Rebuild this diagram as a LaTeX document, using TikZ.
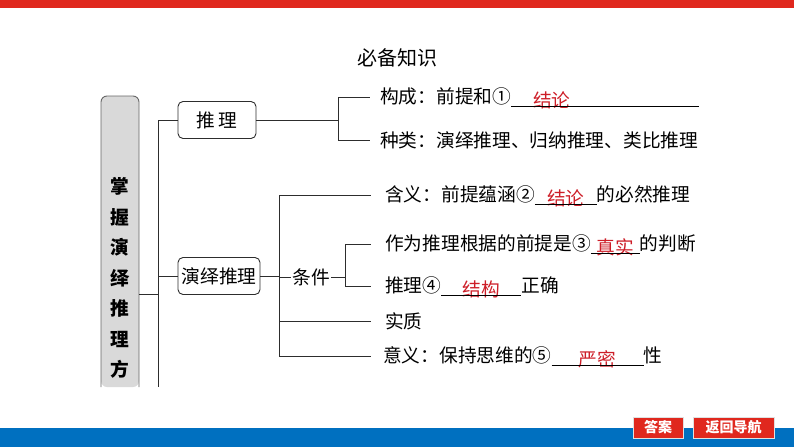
\documentclass[tikz,border=0pt]{standalone}
\usepackage{fontspec}
\setmainfont{Noto Sans CJK SC}
\usetikzlibrary{positioning,calc}
\definecolor{BarRed}{RGB}{224,40,30}
\definecolor{BarBlue}{RGB}{0,112,192}
\definecolor{AnsClr}{RGB}{205,30,40}
\definecolor{BoxClr}{RGB}{217,217,217}
\definecolor{LineClr}{RGB}{45,45,45}
\newcommand{\blank}[2]{\makebox[#1][c]{\textcolor{AnsClr}{\raisebox{-4pt}[0pt][0pt]{#2}}}\llap{\rule[-3pt]{#1}{0.8pt}}}
\newcommand{\blankat}[3]{\makebox[#1][l]{\hspace{#2}\textcolor{AnsClr}{\raisebox{-4pt}[0pt][0pt]{#3}}}\llap{\rule[-3pt]{#1}{0.8pt}}}

\begin{document}
\begin{tikzpicture}[x=1pt,y=-1pt,
  every node/.style={font=\fontsize{18.7}{22}\selectfont},
  topic/.style={draw=LineClr,line width=0.9pt,rounded corners=5pt,minimum height=37pt,inner sep=0pt},
  leaf/.style={anchor=west,inner xsep=12pt,inner ysep=2pt},
  btn/.style={fill=BarRed,draw=black!12,line width=1pt,text=white,minimum height=21pt,inner sep=0pt,font=\fontsize{14}{16}\selectfont\bfseries},
  conn/.style={draw=LineClr,line width=0.9pt}]
\useasboundingbox (0,0) rectangle (794,447);

% frame bars
\fill[BarRed] (0,0) rectangle (794,8);
\fill[BarBlue] (0,428) rectangle (794,447);

\node (title) at (397,58) {\fontsize{20}{24}\selectfont 必备知识};

% left column
\fill[BoxClr,rounded corners=6pt] (101,387) -- (101,96) -- (139,96) -- (139,387) -- cycle;
\draw[draw=black!60,line width=0.9pt,rounded corners=6pt] (101,387) -- (101,96) -- (139,96) -- (139,387);
\node[align=center,font=\fontsize{18.7}{30.5}\selectfont\bfseries] (main) at (120,278)
  {掌\\握\\演\\绎\\推\\理\\方};

\coordinate (mainR) at (139,294);
\coordinate (trunk) at (158,294);
\coordinate (trunkT) at (158,120);
\coordinate (trunkB) at (158,387);

\node[topic,minimum width=78pt] (tl) at (217,120) {推\hspace{4pt}理};
\node[topic,minimum width=82pt] (yl) at (219,276) {演绎推理};

\draw[conn] (mainR) -- (trunk);
\draw[conn] (trunkT) -- (trunkB);
\draw[conn] (trunkT) -- (tl.west);
\draw[conn] (trunk |- yl) -- (yl.west);

% branch: tuili
\coordinate (b1) at (338,118);
\node[leaf] (gc) at (368,97) {构成：前提和①\blankat{188pt}{22pt}{结论}};
\node[leaf] (zl) at (368,140) {种类：演绎推理、归纳推理、类比推理};

\draw[conn] (tl.east) -- (tl.east -| b1);
\draw[conn] (b1 |- gc) -- (b1 |- zl);
\draw[conn] (b1 |- gc) -- ([xshift=2pt]gc.west);
\draw[conn] (b1 |- zl) -- ([xshift=2pt]zl.west);

% branch: yanyi tuili
\coordinate (t2) at (279,276);
\node[leaf,inner xsep=14pt] (hy) at (371,195) {含义：前提蕴涵②\blank{62pt}{结论}的必然推理};
\node[inner xsep=1pt] (tj) at (311,277) {条件};
\coordinate (t3) at (345,277);
\node[leaf,inner xsep=14pt] (zw) at (371,244) {作为推理根据的前提是③\blank{49pt}{真实}的判断};
\node[leaf,inner xsep=14pt] (tl4) at (371,286) {推理④\blank{80pt}{结构}正确};
\node[leaf,inner xsep=14pt] (sz) at (371,321) {实质};
\node[leaf,inner xsep=12pt] (yy) at (371,356) {意义：保持思维的⑤\blank{92pt}{严密}性};

\draw[conn] (yl.east) -- (yl.east -| t2);
\draw[conn] (t2 |- hy) -- (t2 |- yy);
\draw[conn] (t2 |- hy) -- (hy.west);
\draw[conn] (t2 |- tj) -- (tj.west);
\draw[conn] (tj.east) -- (t3);
\draw[conn] (t3 |- zw) -- (t3 |- tl4);
\draw[conn] (t3 |- zw) -- (zw.west);
\draw[conn] (t3 |- tl4) -- (tl4.west);
\draw[conn] (t2 |- sz) -- (sz.west);
\draw[conn] (t2 |- yy) -- (yy.west);

% buttons
\node[btn,minimum width=50pt] (da) at (658,427.5) {答案};
\node[btn,minimum width=81pt] (fh) at (733.5,427.5) {返回导航};

\end{tikzpicture}
\end{document}
